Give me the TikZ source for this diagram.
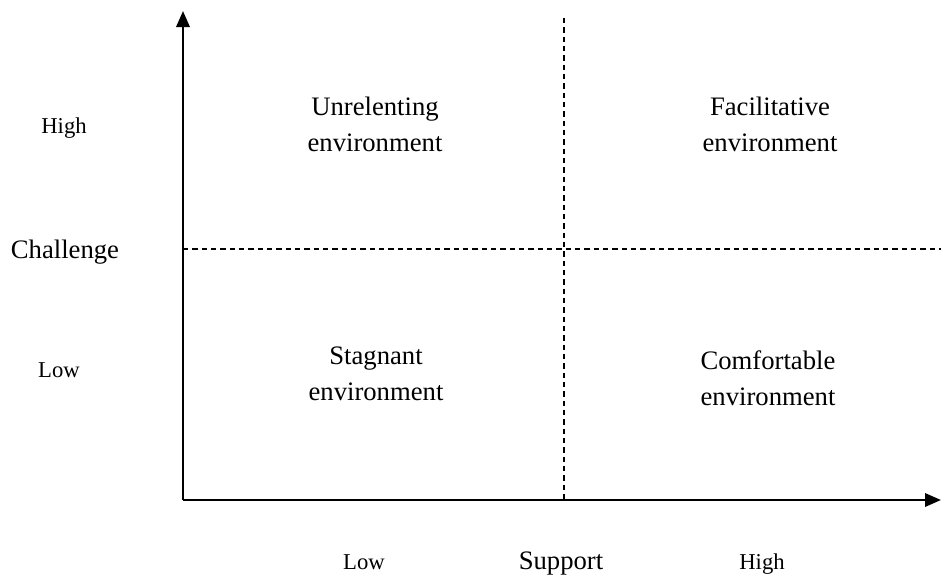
\documentclass[tikz,border=0pt]{standalone}
\usepackage{fontspec}
\setmainfont{Liberation Serif}
\usepackage{tikz}
\usetikzlibrary{arrows.meta, positioning, calc}
\tikzstyle{axis} = [line width=1.8pt, -{Triangle[length=12pt, width=10pt]}]
\tikzstyle{divider} = [line width=0.8pt, dash pattern=on 4pt off 3pt]
\tikzstyle{quadrant} = [align=center, font=\fontsize{20}{27}\selectfont]
\tikzstyle{level} = [anchor=base, font=\fontsize{17}{20}\selectfont]
\tikzstyle{axislabel} = [anchor=base, font=\fontsize{20}{24}\selectfont]

\begin{document}
\begin{tikzpicture}[x=0.75pt, y=-0.75pt]
    \useasboundingbox (0,0) rectangle (942,578);
    % Define axis points
    \coordinate (origin) at (183,500);
    \coordinate (ytop) at (183,11);
    \coordinate (xend) at (941,500);
    \coordinate (midtop) at (564,18);
    \coordinate (midbottom) at (564,500);
    \coordinate (midleft) at (183,249);
    \coordinate (midright) at (941,249);

    % Dashed dividers
    \draw [divider] (midtop) -- (midbottom);
    \draw [divider] (midleft) -- (midright);

    % Axes
    \draw [axis] (origin) -- (ytop);
    \draw [axis] (origin) -- (xend);

    % Quadrant labels
    \node [quadrant] (unrelenting) at (375,124) {Unrelenting\\environment};
    \node [quadrant] (facilitative) at (770,124) {Facilitative\\environment};
    \node [quadrant] (stagnant) at (376,374) {Stagnant\\environment};
    \node [quadrant] (comfortable) at (768,378) {Comfortable\\environment};

    % Challenge axis labels
    \node [axislabel] (challenge) at (65,258) {Challenge};
    \node [level] (chigh) at (64,133) {High};
    \node [level] (clow) at (59,377) {Low};

    % Support axis labels
    \node [axislabel] (support) at (561,569) {Support};
    \node [level] (slow) at (364,569) {Low};
    \node [level] (shigh) at (762,569) {High};
\end{tikzpicture}
\end{document}
